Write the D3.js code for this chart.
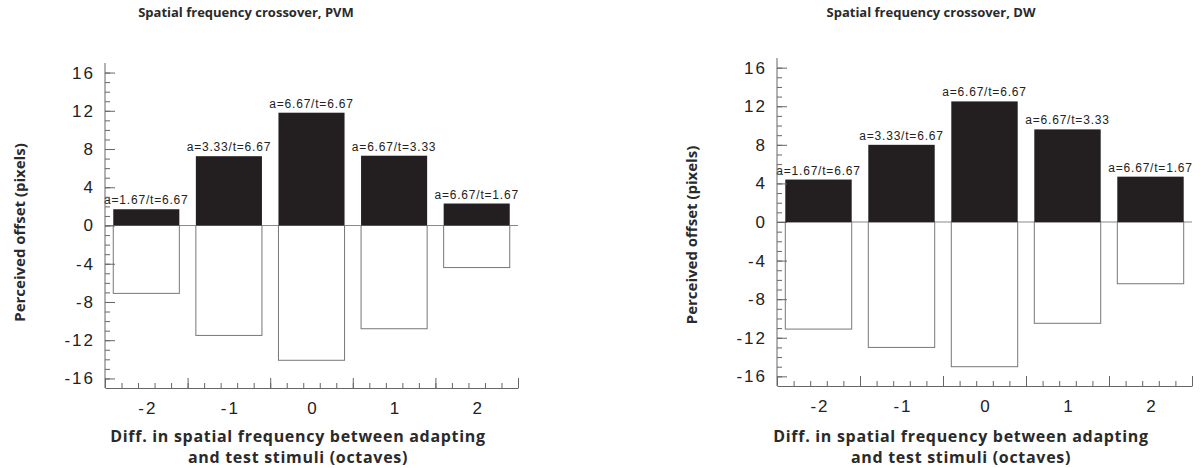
<!DOCTYPE html>
<html>
<head>
<meta charset="utf-8">
<script src="https://cdn.jsdelivr.net/npm/d3@7"></script>
<style>
  html, body { margin: 0; padding: 0; background: #fff; }
  svg { display: block; }
  .tick-label { font-family: "Liberation Sans", Arial, sans-serif; font-size: 17px; fill: #222; letter-spacing: 2px; }
  .bar-label { font-family: "Liberation Sans", Arial, sans-serif; font-size: 12px; fill: #222; letter-spacing: 0.8px; }
  .title { font-family: "Open Sans", "Noto Sans", sans-serif; font-weight: 700; font-size: 13px; fill: #2a2a2a; }
  .y-title { font-family: "Open Sans", "Noto Sans", sans-serif; font-weight: 700; font-size: 15px; fill: #2a2a2a; }
  .x-title { font-family: "Open Sans", "Noto Sans", sans-serif; font-weight: 700; font-size: 16px; letter-spacing: 0.7px; fill: #2a2a2a; }
</style>
</head>
<body>
<script>
// ---- data ----
const categories = [-2, -1, 0, 1, 2];
const barLabels = ["a=1.67/t=6.67", "a=3.33/t=6.67", "a=6.67/t=6.67", "a=6.67/t=3.33", "a=6.67/t=1.67"];
const pvmPositive = [1.7, 7.25, 11.8, 7.3, 2.3];
const pvmNegative = [-7.1, -11.5, -14.1, -10.8, -4.4];
const dwPositive = [4.4, 8.0, 12.5, 9.6, 4.7];
const dwNegative = [-11.1, -13.0, -15.0, -10.5, -6.4];
const yTicks = [-16, -12, -8, -4, 0, 4, 8, 12, 16];
const titles = ["Spatial frequency crossover, PVM", "Spatial frequency crossover, DW"];
const yTitle = "Perceived offset (pixels)";
const xTitleLines = ["Diff. in spatial frequency between adapting", "and test stimuli (octaves)"];

// ---- layout ----
const W = 1201, H = 468;
const panels = [
  { x0: 105, x1: 518, y0: 63, y1: 388, pos: pvmPositive, neg: pvmNegative, title: titles[0], titleDx: 141, yTitleDy: 7, xTitleDx: 193 },
  { x0: 777, x1: 1192, y0: 58, y1: 386, pos: dwPositive, neg: dwNegative, title: titles[1], titleDx: 154, yTitleDy: 13, xTitleDx: 184 }
];

const svg = d3.select("body").append("svg").attr("width", W).attr("height", H);
const axisColor = "#666";
const fmt = d => String(d);

panels.forEach(p => {
  const g = svg.append("g");
  const x = d3.scaleLinear().domain([-2.5, 2.5]).range([p.x0, p.x1]);
  const y = d3.scaleLinear().domain([-17, 17]).range([p.y1, p.y0]);

  // open (negative) bars
  g.selectAll("rect.neg").data(p.neg).enter().append("rect")
    .attr("x", (d, i) => x(categories[i] - 0.4))
    .attr("width", (d, i) => x(categories[i] + 0.4) - x(categories[i] - 0.4))
    .attr("y", y(0))
    .attr("height", d => y(d) - y(0))
    .attr("fill", "none").attr("stroke", "#777").attr("stroke-width", 1);

  // zero line
  g.append("line").attr("x1", p.x0).attr("x2", p.x1).attr("y1", y(0)).attr("y2", y(0))
    .attr("stroke", "#888").attr("stroke-width", 1);

  // filled (positive) bars
  g.selectAll("rect.pos").data(p.pos).enter().append("rect")
    .attr("x", (d, i) => x(categories[i] - 0.4))
    .attr("width", (d, i) => x(categories[i] + 0.4) - x(categories[i] - 0.4))
    .attr("y", d => y(d))
    .attr("height", d => y(0) - y(d))
    .attr("fill", "#231f20");

  // bar labels
  g.selectAll("text.bl").data(p.pos).enter().append("text")
    .attr("class", "bar-label")
    .attr("x", (d, i) => x(categories[i]))
    .attr("y", d => y(d) - 5)
    .attr("text-anchor", "middle")
    .text((d, i) => barLabels[i]);

  // y axis: minor + major ticks inside
  const minorY = d3.range(-16, 17, 1);
  const yMinor = g.append("g").attr("transform", `translate(${p.x0},0)`)
    .call(d3.axisRight(y).tickValues(minorY).tickSize(5).tickFormat(""));
  const yMajor = g.append("g").attr("transform", `translate(${p.x0},0)`)
    .call(d3.axisRight(y).tickValues(yTicks).tickSize(10).tickFormat(""));
  yMajor.select(".domain").remove();
  const yLab = g.append("g").attr("transform", `translate(${p.x0},0)`)
    .call(d3.axisLeft(y).tickValues(yTicks).tickSize(0).tickPadding(10).tickFormat(fmt));
  yLab.select(".domain").remove();
  yLab.selectAll("text").attr("class", "tick-label").attr("font-family", null).attr("font-size", null);

  // x axis: ticks inside, pointing up
  const minorX = d3.range(0, 26).map(k => -2.5 + k * 0.2);
  const majorX = [-2.5, -1.5, -0.5, 0.5, 1.5, 2.5];
  const xMinor = g.append("g").attr("transform", `translate(0,${p.y1})`)
    .call(d3.axisTop(x).tickValues(minorX).tickSize(5).tickFormat("").tickSizeOuter(0));
  const xMajor = g.append("g").attr("transform", `translate(0,${p.y1})`)
    .call(d3.axisTop(x).tickValues(majorX).tickSize(10).tickFormat(""));
  xMajor.select(".domain").remove();
  const xLab = g.append("g").attr("transform", `translate(0,${p.y1})`)
    .call(d3.axisBottom(x).tickValues(categories).tickSize(0).tickPadding(14).tickFormat(fmt));
  xLab.select(".domain").remove();
  xLab.selectAll("text").attr("class", "tick-label").attr("font-family", null).attr("font-size", null)
    .attr("dx", "1px");

  g.selectAll(".domain, .tick line").attr("stroke", axisColor).attr("stroke-width", 1);
  yMinor.select(".domain").attr("d", `M0,${p.y0}V${p.y1}`);

  // titles
  g.append("text").attr("class", "title")
    .attr("x", p.x0 + p.titleDx).attr("y", 17)
    .attr("text-anchor", "middle").text(p.title);

  g.append("text").attr("class", "y-title")
    .attr("transform", `translate(${p.x0 - 80},${(p.y0 + p.y1) / 2 + p.yTitleDy}) rotate(-90)`)
    .attr("text-anchor", "middle").text(yTitle);

  g.selectAll("text.xt").data(xTitleLines).enter().append("text")
    .attr("class", "x-title")
    .attr("x", p.x0 + p.xTitleDx)
    .attr("y", (d, i) => 442 + i * 21)
    .attr("text-anchor", "middle").text(d => d);
});
</script>
</body>
</html>
